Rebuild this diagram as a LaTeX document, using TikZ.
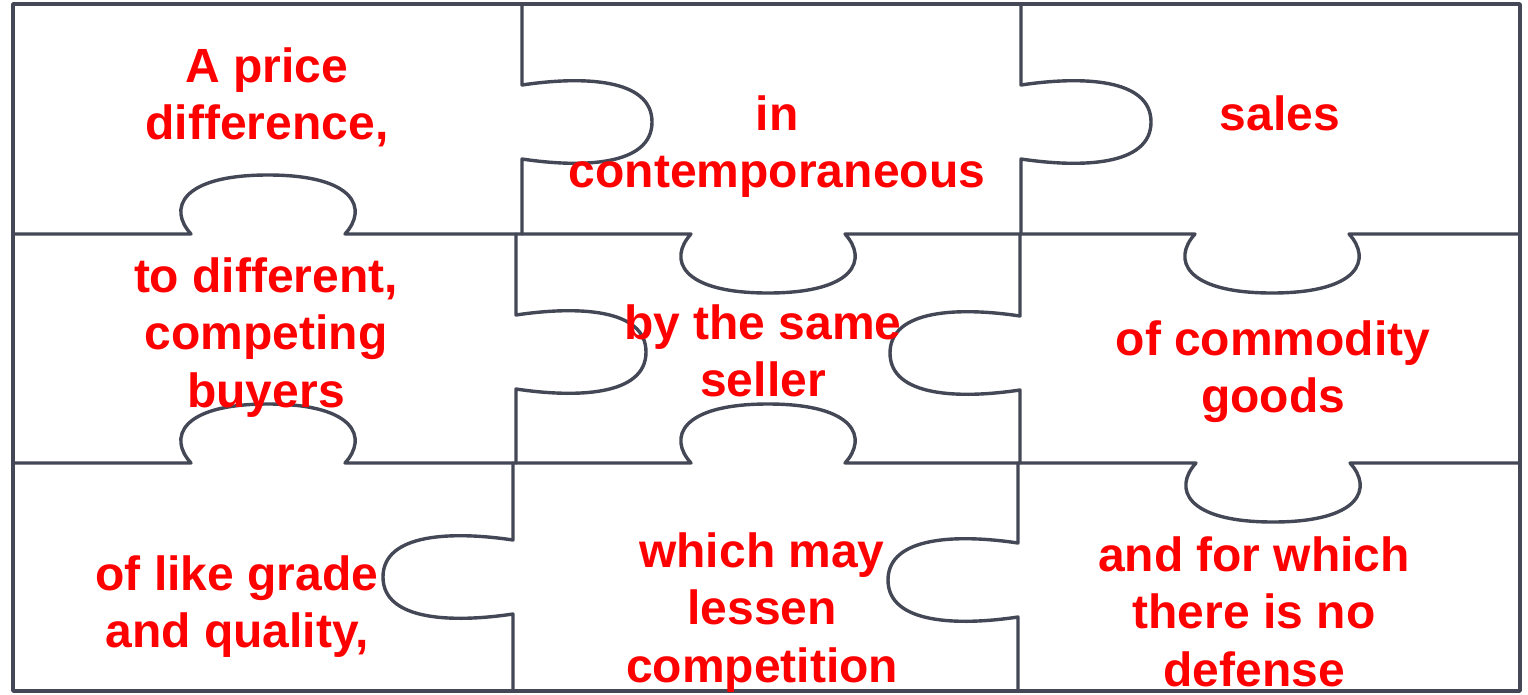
\documentclass[tikz,border=0pt]{standalone}
\usepackage{fontspec}
\setmainfont{Liberation Sans}
\definecolor{edge}{RGB}{68,72,86}
\newcommand\pz[1]{\begin{tabular}[t]{@{}c@{}}#1\end{tabular}}
\begin{document}
\begin{tikzpicture}[x=1pt,y=-1pt,
  edgeline/.style={draw=edge, line width=3.4pt, line join=round, line cap=round},
  word/.style={anchor=base, inner sep=0pt, text=red, font=\fontsize{48}{57.5}\selectfont\bfseries},
  knobU/.style 2 args={insert path={-- ({#1-77},#2) .. controls ({#1-100},{#2-25}) and ({#1-88},{#2-59}) .. (#1,{#2-59}) .. controls ({#1+88},{#2-59}) and ({#1+100},{#2-25}) .. ({#1+77},#2)}},
  knobD/.style 2 args={insert path={-- ({#1-77},#2) .. controls ({#1-100},{#2+25}) and ({#1-88},{#2+59}) .. (#1,{#2+59}) .. controls ({#1+88},{#2+59}) and ({#1+100},{#2+25}) .. ({#1+77},#2)}},
  knobR/.style 2 args={insert path={-- (#1,{#2-37}) .. controls ({#1+60},{#2-46}) and ({#1+130},{#2-44}) .. ({#1+130},#2) .. controls ({#1+130},{#2+44}) and ({#1+60},{#2+46}) .. (#1,{#2+37})}},
  knobL/.style 2 args={insert path={-- (#1,{#2-37}) .. controls ({#1-60},{#2-46}) and ({#1-130},{#2-44}) .. ({#1-130},#2) .. controls ({#1-130},{#2+44}) and ({#1-60},{#2+46}) .. (#1,{#2+37})}}
]
\fill[white] (0,0) rectangle (1528,694);
\useasboundingbox (0,0) rectangle (1528,694);
% outer frame
\draw[edgeline] (13,4) rectangle (1520,691);
% horizontal seams
\draw[edgeline] (13,234) [knobU={268}{234}] [knobD={768}{234}] [knobD={1272}{234}] -- (1520,234);
\draw[edgeline] (13,463) [knobU={268}{463}] [knobU={768}{463}] [knobD={1273}{463}] -- (1520,463);
% vertical seams
\draw[edgeline] (522,4) [knobR={522}{122}] -- (522,234);
\draw[edgeline] (516,234) [knobR={516}{352}] -- (516,463);
\draw[edgeline] (513,463) [knobL={513}{577}] -- (513,691);
\draw[edgeline] (1021,4) [knobR={1021}{122}] -- (1021,234);
\draw[edgeline] (1020,234) [knobL={1020}{353}] -- (1020,463);
\draw[edgeline] (1018,463) [knobL={1018}{580}] -- (1018,691);
% texts
\node[word] (p1) at (267,82) {\pz{A price\\difference,}};
\node[word] (p2) at (777,130) {\pz{in\\contemporaneous}};
\node[word] (p3) at (1280,130) {\pz{sales}};
\node[word] (p4) at (266,292) {\pz{to different,\\competing\\buyers}};
\node[word] (p5) at (763,339) {\pz{by the same\\seller}};
\node[word] (p6) at (1273,355) {\pz{of commodity\\goods}};
\node[word] (p7) at (237,590) {\pz{of like grade\\and quality,}};
\node[word] (p8) at (762,567) {\pz{which may\\lessen\\competition}};
\node[word] (p9) at (1254,571) {\pz{and for which\\there is no\\defense}};
\end{tikzpicture}
\end{document}
